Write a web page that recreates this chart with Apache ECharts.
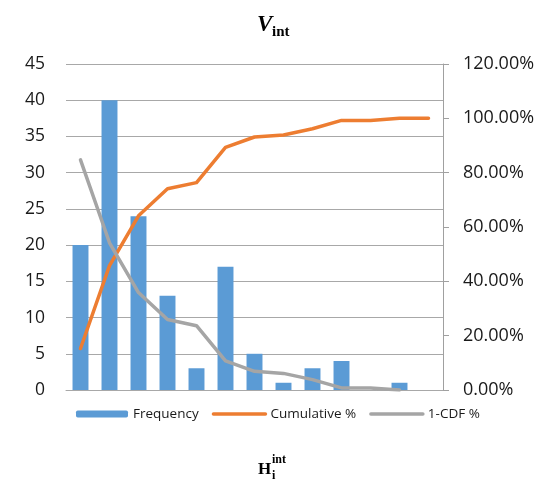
<!DOCTYPE html>
<html>
<head>
<meta charset="utf-8">
<script src="https://cdn.jsdelivr.net/npm/echarts@6/dist/echarts.min.js"></script>
<style>
html,body{margin:0;padding:0;background:#fff;}
#chart{width:542px;height:484px;}
</style>
</head>
<body>
<div id="chart"></div>
<script>
var categories = ['1','2','3','4','5','6','7','8','9','10','11','12','13'];
var frequency = [20, 40, 24, 13, 3, 17, 5, 1, 3, 4, 0, 1, 0];
var cumulativePct = [15.27, 45.80, 64.12, 74.05, 76.34, 89.31, 93.13, 93.89, 96.18, 99.24, 99.24, 100, 100];
var oneMinusCdfPct = [84.73, 54.20, 35.88, 25.95, 23.66, 10.69, 6.87, 6.11, 3.82, 0.76, 0.76, 0, null];
var leftTicks = {min: 0, max: 45, interval: 5};
var rightTicks = {min: 0, max: 120, interval: 20};

var chart = echarts.init(document.getElementById('chart'), null, {renderer: 'canvas'});
var labelFont = 'Open Sans';
var gridColor = '#A8A8A8';
chart.setOption({
  animation: false,
  backgroundColor: '#ffffff',
  grid: {left: 66, right: 99, top: 64, bottom: 94, containLabel: false},
  xAxis: {
    type: 'category',
    data: categories,
    boundaryGap: true,
    axisLine: {show: true, lineStyle: {color: gridColor, width: 1}},
    axisTick: {show: false},
    axisLabel: {show: false},
    splitLine: {show: false}
  },
  yAxis: [{
    type: 'value',
    min: leftTicks.min, max: leftTicks.max, interval: leftTicks.interval,
    axisLine: {show: false},
    axisTick: {show: false},
    axisLabel: {margin: 21, fontFamily: labelFont, fontSize: 17.5, color: '#1a1a1a'},
    splitLine: {show: true, lineStyle: {color: gridColor, width: 1}}
  }, {
    type: 'value',
    min: rightTicks.min, max: rightTicks.max, interval: rightTicks.interval,
    position: 'right',
    axisLine: {show: true, lineStyle: {color: '#A0A0A0', width: 1}},
    axisTick: {show: true, inside: false, length: 6, lineStyle: {color: '#A0A0A0'}},
    axisLabel: {margin: 20, fontFamily: labelFont, fontSize: 18, color: '#1a1a1a',
      formatter: function (v) { return v.toFixed(2) + '%'; }},
    splitLine: {show: false}
  }],
  legend: {
    left: 76, top: 407, padding: 0,
    itemWidth: 52, itemHeight: 7, itemGap: 13,
    textStyle: {fontFamily: labelFont, fontSize: 13.5, color: '#1a1a1a'},
    data: [
      {name: 'Frequency'},
      {name: 'Cumulative %', itemStyle: {opacity: 0}, lineStyle: {width: 3.5}},
      {name: '1-CDF %', itemStyle: {opacity: 0}, lineStyle: {width: 3.5}}
    ]
  },
  series: [{
    name: 'Frequency',
    type: 'bar',
    yAxisIndex: 0,
    data: frequency,
    barCategoryGap: '45%',
    itemStyle: {color: '#5B9BD5'}
  }, {
    name: 'Cumulative %',
    type: 'line',
    yAxisIndex: 1,
    data: cumulativePct,
    symbol: 'none',
    lineStyle: {color: '#ED7D31', width: 3.5, cap: 'round', join: 'round'},
    itemStyle: {color: '#ED7D31'}
  }, {
    name: '1-CDF %',
    type: 'line',
    yAxisIndex: 1,
    data: oneMinusCdfPct,
    symbol: 'none',
    connectNulls: false,
    lineStyle: {color: '#A5A5A5', width: 3.5, cap: 'round', join: 'round'},
    itemStyle: {color: '#A5A5A5'}
  }],
  graphic: [
    {type: 'text', x: 257, y: 25, style: {text: 'V', font: 'italic bold 23px "Liberation Serif"', fill: '#000', align: 'left', verticalAlign: 'middle'}},
    {type: 'text', x: 272, y: 32, style: {text: 'int', font: 'bold 15px "Liberation Serif"', fill: '#000', align: 'left', verticalAlign: 'middle'}},
    {type: 'text', x: 258, y: 470, style: {text: 'H', font: 'bold 17px "Liberation Serif"', fill: '#000', align: 'left', verticalAlign: 'middle'}},
    {type: 'text', x: 272, y: 460, style: {text: 'int', font: 'bold 12px "Liberation Serif"', fill: '#000', align: 'left', verticalAlign: 'middle'}},
    {type: 'text', x: 272, y: 476, style: {text: 'i', font: 'bold 12px "Liberation Serif"', fill: '#000', align: 'left', verticalAlign: 'middle'}}
  ]
});
</script>
</body>
</html>
